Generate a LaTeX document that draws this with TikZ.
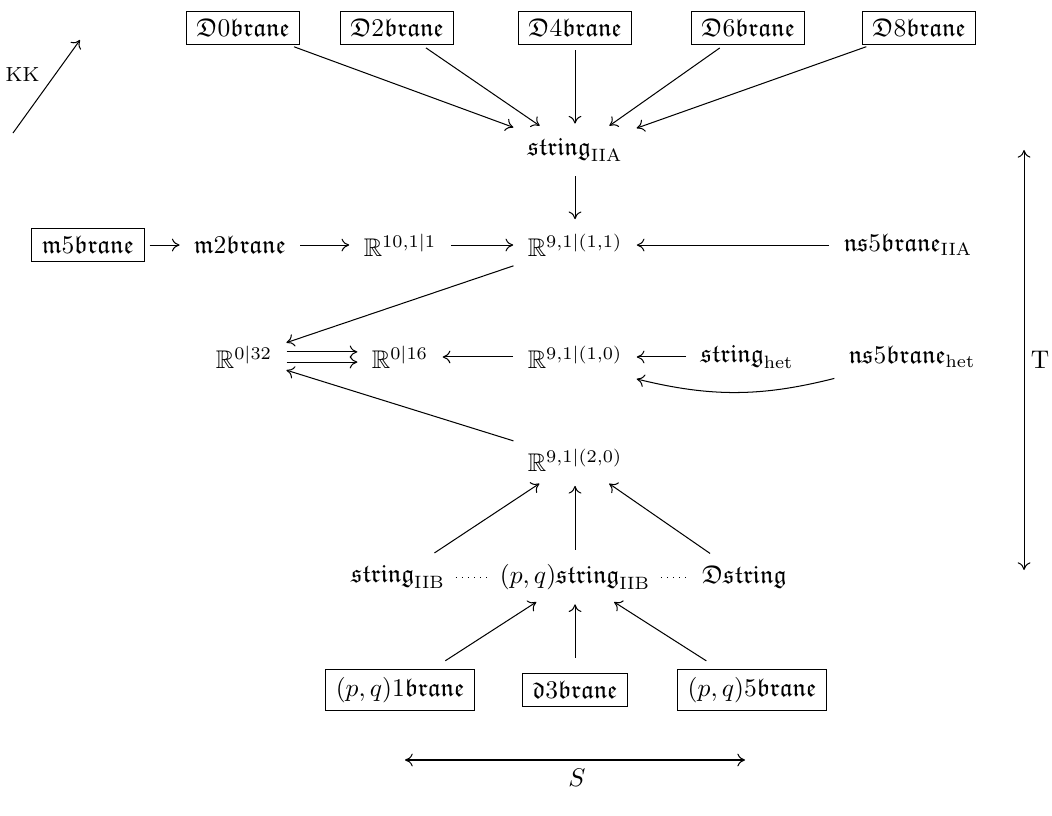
\documentclass[tikz,border=0pt]{standalone}
\usepackage{amssymb}
\usetikzlibrary{positioning,arrows.meta}
\tikzset{
  brane/.style={draw, inner xsep=4pt, inner ysep=3pt},
  obj/.style={inner sep=3.5pt},
  link/.style={->, shorten >=2pt, shorten <=2pt},
  dual/.style={dotted, shorten >=0.5pt, shorten <=0.5pt}
}
\newcommand{\fk}[1]{\mathfrak{#1}}

\begin{document}
\begin{tikzpicture}[>={Computer Modern Rightarrow[length=3pt,width=5pt]}]
  \useasboundingbox (0,0) rectangle (14.49,11.226);
  % D-branes on top
  \node[brane] (D0) at (3.347,10.84) {$\fk{D}0\fk{brane}$};
  \node[brane] (D2) at (5.468,10.84) {$\fk{D}2\fk{brane}$};
  \node[brane] (D4) at (7.92,10.84) {$\fk{D}4\fk{brane}$};
  \node[brane] (D6) at (10.303,10.84) {$\fk{D}6\fk{brane}$};
  \node[brane] (D8) at (12.658,10.84) {$\fk{D}8\fk{brane}$};
  \node[obj] (sIIA) at (7.92,9.16) {$\fk{string}_{\mathrm{IIA}}$};
  % M-theory row
  \node[brane] (m5) at (1.212,7.851) {$\fk{m}5\fk{brane}$};
  \node[obj] (m2) at (3.306,7.851) {$\fk{m}2\fk{brane}$};
  \node[obj] (R101) at (5.51,7.851) {$\mathbb{R}^{10,1|1}$};
  \node[obj] (R911) at (7.92,7.851) {$\mathbb{R}^{9,1|(1,1)}$};
  \node[obj] (ns5A) at (12.507,7.851) {$\fk{ns}5\fk{brane}_{\mathrm{IIA}}$};
  % heterotic row
  \node[obj] (R032) at (3.361,6.309) {$\mathbb{R}^{0|32}$};
  \node[obj] (R016) at (5.51,6.309) {$\mathbb{R}^{0|16}$};
  \node[obj] (R910) at (7.92,6.309) {$\mathbb{R}^{9,1|(1,0)}$};
  \node[obj] (shet) at (10.289,6.309) {$\fk{string}_{\mathrm{het}}$};
  \node[obj] (ns5h) at (12.562,6.309) {$\fk{ns}5\fk{brane}_{\mathrm{het}}$};
  % type IIB
  \node[obj] (R920) at (7.92,4.89) {$\mathbb{R}^{9,1|(2,0)}$};
  \node[obj] (sIIB) at (5.482,3.278) {$\fk{string}_{\mathrm{IIB}}$};
  \node[obj] (pqs) at (7.92,3.278) {$(p,q)\fk{string}_{\mathrm{IIB}}$};
  \node[obj] (Ds) at (10.25,3.278) {$\fk{Dstring}$};
  \node[brane] (pq1) at (5.51,1.722) {$(p,q)1\fk{brane}$};
  \node[brane] (d3) at (7.92,1.722) {$\fk{d}3\fk{brane}$};
  \node[brane] (pq5) at (10.358,1.722) {$(p,q)5\fk{brane}$};

  \foreach \n in {D0,D2,D4,D6,D8}
    \draw[link] (\n) -- (sIIA);
  \draw[link] (sIIA) -- (R911);
  \draw[link] (m5) -- (m2);
  \draw[link] (m2) -- (R101);
  \draw[link] (R101) -- (R911);
  \draw[link] (ns5A) -- (R911);
  \draw[link] (R911) -- (R032);
  \draw[link] ([yshift=2pt]R032.east) -- ([yshift=2pt]R016.west);
  \draw[link] ([yshift=-2pt]R032.east) -- ([yshift=-2pt]R016.west);
  \draw[link] (R910) -- (R016);
  \draw[link] (shet) -- (R910);
  \draw[link] (ns5h.south west) to[bend left=14] (R910.south east);
  \draw[link] (R920) -- (R032);
  \foreach \n in {sIIB,pqs,Ds}
    \draw[link] (\n) -- (R920);
  \draw[dual] (sIIB) -- (pqs);
  \draw[dual] (pqs) -- (Ds);
  \foreach \n in {pq1,d3,pq5}
    \draw[link,shorten <=6pt] (\n) -- (pqs);

  % duality axes
  \coordinate (kk0) at (0.179,9.394);
  \coordinate (kk1) at (1.102,10.675);
  \draw[->] (kk0) -- (kk1);
  \node (kk) at (0.31,10.193) {\footnotesize KK};
  \coordinate (t0) at (14.105,9.16);
  \coordinate (t1) at (14.105,3.375);
  \draw[<->] (t0) -- (t1);
  \node (T) at (14.325,6.267) {T};
  \coordinate (s0) at (5.579,0.758);
  \coordinate (s1) at (10.262,0.758);
  \draw[<->] (s0) -- (s1);
  \node (S) at (7.948,0.51) {$S$};
\end{tikzpicture}
\end{document}
